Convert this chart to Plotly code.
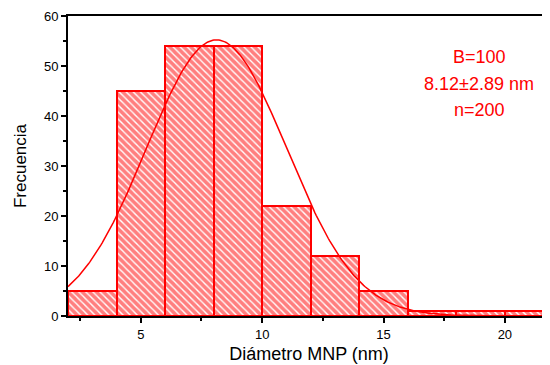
import numpy as np
import plotly.graph_objects as go

# Data
bin_left = [2, 4, 6, 8, 10, 12, 14, 16, 18, 20]
bin_width = 2
counts = [5, 45, 54, 54, 22, 12, 5, 1, 1, 1]

# Fit parameters stated on the chart
mean_d = 8.12
sd_d = 2.89
n_total = 200
info_lines = ["B=100", "8.12±2.89 nm", "n=200"]

x_centers = [b + bin_width / 2 for b in bin_left]

xf = np.linspace(2, 22, 400)
amp = n_total * bin_width / (sd_d * np.sqrt(2 * np.pi))
yf = amp * np.exp(-(xf - mean_d) ** 2 / (2 * sd_d ** 2))

RED = "#ff0000"
fig = go.Figure()
fig.add_trace(go.Bar(
    x=x_centers, y=counts, width=[bin_width] * len(counts),
    marker=dict(color="white", line=dict(color=RED, width=2),
                pattern=dict(shape="\\", fgcolor=RED, bgcolor="white", size=5, solidity=0.72, fillmode="overlay")),
    showlegend=False, hoverinfo="skip"))
fig.add_trace(go.Scatter(x=xf, y=yf, mode="lines", line=dict(color=RED, width=1.5), showlegend=False))

for i, t in enumerate(info_lines):
    fig.add_annotation(x=0.853, y=0.863 - i * 0.088, xref="paper", yref="paper",
                       text=t, showarrow=False, xanchor="center", yanchor="middle",
                       font=dict(family="Liberation Sans, Arial", size=18, color=RED))

fig.update_layout(
    width=542, height=357, margin=dict(l=60, r=0, t=8, b=49),
    plot_bgcolor="white", paper_bgcolor="white", bargap=0,
    font=dict(family="Liberation Sans, Arial", color="black"),
    xaxis=dict(range=[2, 21.86], tickvals=[5, 10, 15, 20], showgrid=False, zeroline=False,
               showline=True, linecolor="black", linewidth=1.8, mirror=True,
               ticks="outside", ticklen=5, tickwidth=1.5, tickcolor="black",
               tickfont=dict(size=13),
               minor=dict(tickvals=[2.5, 7.5, 12.5, 17.5], ticks="outside", ticklen=3, tickcolor="black", tickwidth=1.5),
               title=dict(text="Diámetro MNP (nm)", font=dict(size=18), standoff=7)),
    yaxis=dict(range=[0, 60], dtick=10, showgrid=False, zeroline=False,
               showline=True, linecolor="black", linewidth=1.8,
               ticks="outside", ticklen=5, tickwidth=1.5, tickcolor="black",
               tickfont=dict(size=13),
               minor=dict(dtick=5, ticks="outside", ticklen=3, tickcolor="black", tickwidth=1.5),
               title=dict(text="Frecuencia", font=dict(size=17), standoff=13)),
)
fig.write_html("out.html")
